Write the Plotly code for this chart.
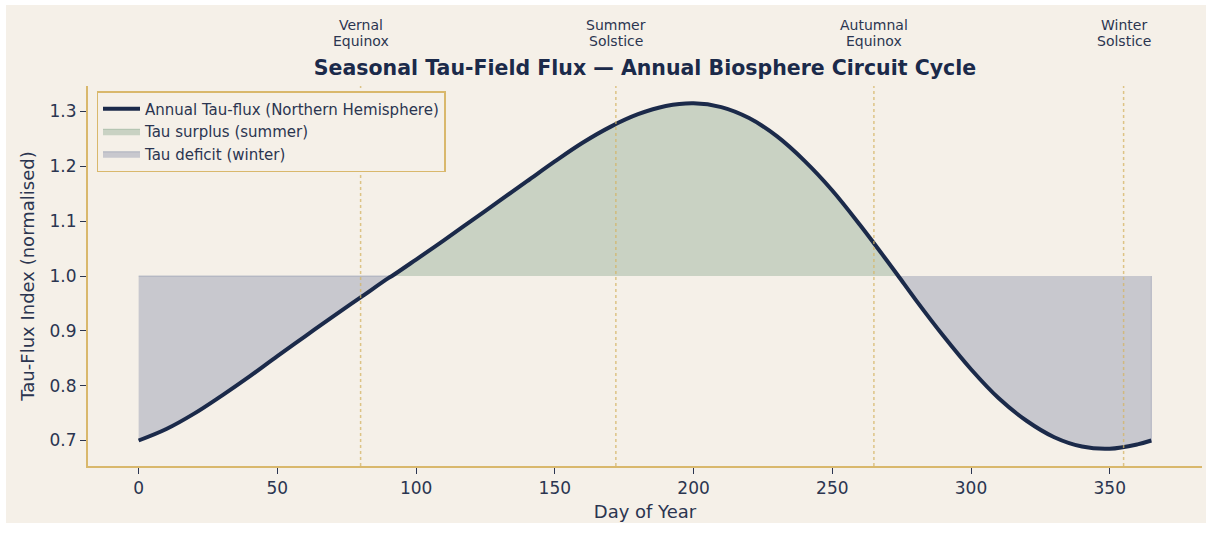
import plotly.graph_objects as go

# ---- data ----
days = [0, 10, 20, 30, 40, 50, 60, 70, 80, 90, 91.3, 100, 110, 120, 130, 140, 150, 160,
        170, 180, 190, 200, 210, 220, 230, 240, 250, 260, 270, 273.8, 280, 290, 300,
        310, 320, 330, 340, 350, 360, 365]
flux = [0.700, 0.721, 0.749, 0.782, 0.817, 0.854, 0.890, 0.926, 0.961, 0.996, 1.000,
        1.030, 1.065, 1.101, 1.137, 1.173, 1.209, 1.243, 1.272, 1.295, 1.310, 1.315,
        1.308, 1.288, 1.255, 1.210, 1.156, 1.093, 1.026, 1.000, 0.957, 0.891, 0.830,
        0.777, 0.736, 0.706, 0.689, 0.685, 0.693, 0.700]
baseline = 1.0
event_days = [80, 172, 265, 355]
event_labels = [("Vernal", "Equinox"), ("Summer", "Solstice"), ("Autumnal", "Equinox"), ("Winter", "Solstice")]
x_ticks = [0, 50, 100, 150, 200, 250, 300, 350]
y_ticks = [0.7, 0.8, 0.9, 1.0, 1.1, 1.2, 1.3]

BG = "#f5f0e8"
NAVY = "#1b2a4a"
TXT = "#2b3550"
GOLD = "#d9b86c"
FONT = "DejaVu Sans"

# crossing indices (value == baseline)
cross = [i for i, v in enumerate(flux) if v == baseline]
i1, i2 = cross[0], cross[1]

# deficit polygons (two pieces separated by None)
dx = days[:i1 + 1] + [days[0]] + [None] + days[i2:] + [days[-1]]
dy = flux[:i1 + 1] + [baseline] + [None] + flux[i2:] + [baseline]
# surplus polygon
sx = days[i1:i2 + 1]
sy = flux[i1:i2 + 1]

fig = go.Figure()
fig.add_trace(go.Scatter(
    x=dx, y=dy, mode="lines", fill="toself", connectgaps=False,
    fillcolor="rgba(95,110,145,0.30)", line=dict(color="rgba(95,110,145,0.35)", width=1),
    name="Tau deficit (winter)", legendrank=3, hoverinfo="skip"))
fig.add_trace(go.Scatter(
    x=sx, y=sy, mode="lines", fill="toself",
    fillcolor="rgba(98,143,109,0.30)", line=dict(color="rgba(98,143,109,0.35)", width=1),
    name="Tau surplus (summer)", legendrank=2, hoverinfo="skip"))
fig.add_trace(go.Scatter(
    x=days, y=flux, mode="lines", line=dict(color=NAVY, width=4, shape="spline", smoothing=1.0),
    name="Annual Tau-flux (Northern Hemisphere)", legendrank=1))

for d, (l1, l2) in zip(event_days, event_labels):
    fig.add_shape(type="line", x0=d, x1=d, xref="x", y0=0, y1=1, yref="paper",
                  line=dict(color="rgba(212,180,100,0.75)", width=1.5, dash="dot"), layer="above")
    fig.add_annotation(x=d, xref="x", y=(466 - 25) / 380, yref="paper", yanchor="middle",
                       text=l1, showarrow=False, font=dict(family=FONT, size=14, color=TXT))
    fig.add_annotation(x=d, xref="x", y=(466 - 40.7) / 380, yref="paper", yanchor="middle",
                       text=l2, showarrow=False, font=dict(family=FONT, size=14, color=TXT))

# beige panel with white outer border
fig.add_shape(type="rect", xref="paper", yref="paper", x0=-0.0736, x1=1.0036, y0=-0.15, y1=1.213,
              fillcolor=BG, line=dict(width=0), layer="below")

fig.update_layout(
    width=1206, height=533,
    margin=dict(l=88, r=4, t=86, b=67),
    paper_bgcolor="white", plot_bgcolor=BG,
    font=dict(family=FONT, color=TXT),
    title=dict(text="Seasonal Tau-Field Flux — Annual Biosphere Circuit Cycle",
               x=0.5, xref="paper", xanchor="center", y=1 - 68 / 533, yref="container", yanchor="middle",
               font=dict(family=FONT, size=20.5, color=NAVY, weight="bold")),
    legend=dict(x=(96.5 - 88) / 1114, y=(466 - 91) / 380, xanchor="left", yanchor="top", bgcolor=BG,
                bordercolor=GOLD, borderwidth=1.5, itemwidth=37,
                font=dict(family=FONT, size=15, color=TXT)),
    showlegend=True,
)
fig.update_xaxes(range=[-18.25, 383.25], tickvals=x_ticks, ticks="outside", ticklen=6, tickwidth=1.2,
                 tickcolor=TXT, showgrid=False, zeroline=False, showline=True, linecolor=GOLD, linewidth=2,
                 tickfont=dict(family=FONT, size=17, color=TXT),
                 title=dict(text="Day of Year", font=dict(family=FONT, size=18, color=TXT), standoff=8))
fig.update_yaxes(range=[0.6535, 1.3465], tickvals=y_ticks, tickformat=".1f", ticks="outside", ticklen=6,
                 tickwidth=1.2, tickcolor=TXT, showgrid=False, zeroline=False, showline=True,
                 linecolor=GOLD, linewidth=2,
                 tickfont=dict(family=FONT, size=17, color=TXT),
                 title=dict(text="Tau-Flux Index (normalised)", font=dict(family=FONT, size=18, color=TXT),
                            standoff=10))

fig.write_html("out.html", config={"displayModeBar": False},
               post_script="document.body.style.margin='0';document.body.style.overflow='hidden';")
